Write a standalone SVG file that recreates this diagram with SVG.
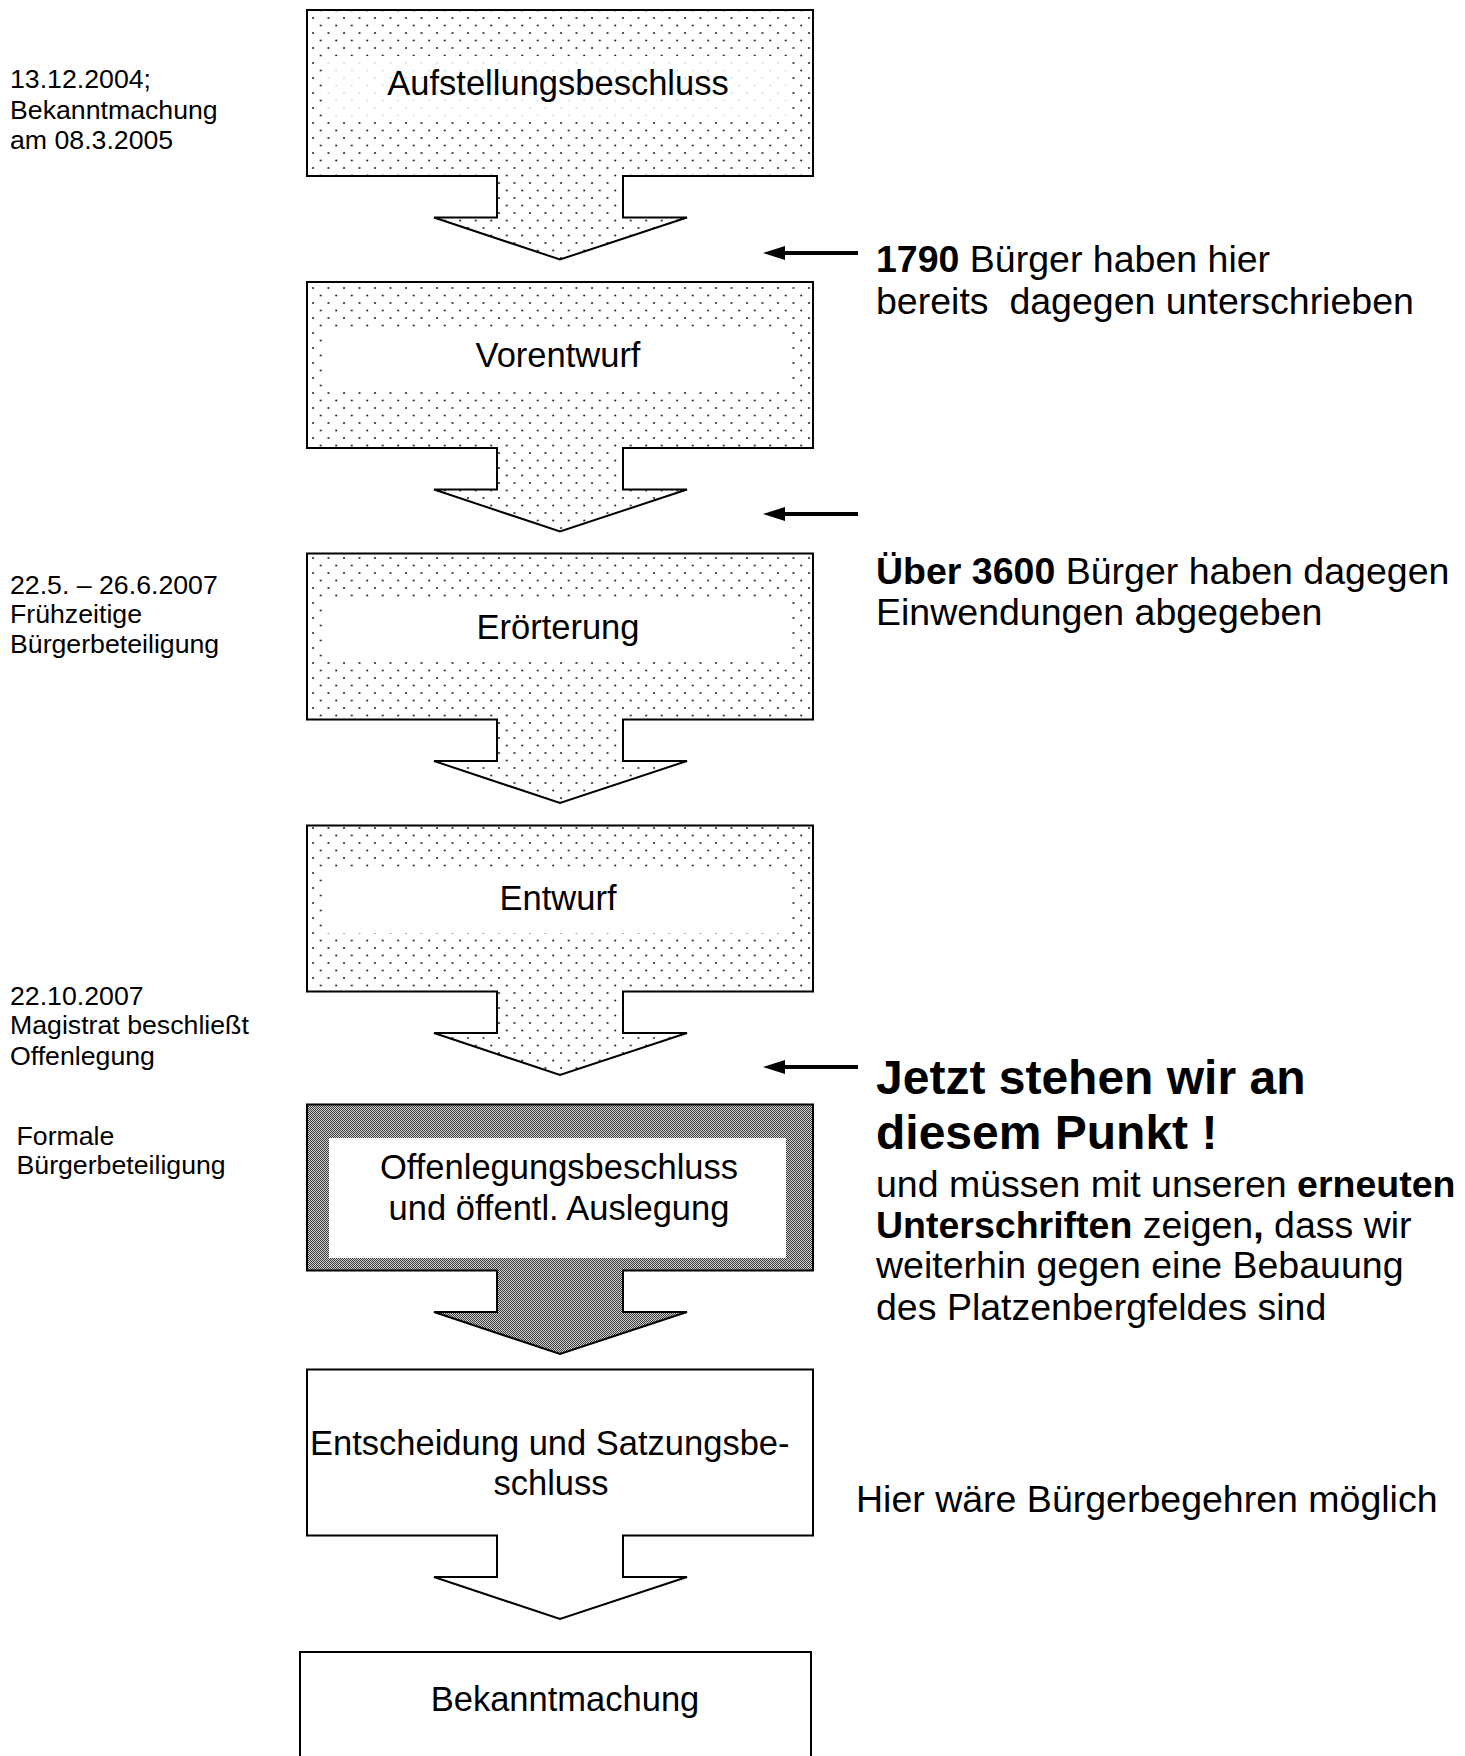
<svg xmlns="http://www.w3.org/2000/svg" width="1465" height="1756" viewBox="0 0 1465 1756">
<style>
text{font-family:"Liberation Sans",Arial,sans-serif;fill:#000}
.box{stroke:#000;stroke-width:2;stroke-linejoin:miter}
.lbl{font-size:34.5px;text-anchor:middle}
.side{font-size:26.7px}
.note{font-size:37.5px}
.big{font-size:48px;font-weight:bold}
.b{font-weight:bold}
.ptr{stroke:#000;stroke-width:4;fill:none}
</style>
<defs>
<pattern id="dots" patternUnits="userSpaceOnUse" width="15.5" height="15">
<rect width="15.5" height="15" fill="#fff"/>
<circle cx="3" cy="3" r="1.05" fill="#222"/>
<circle cx="10.75" cy="10.5" r="1.05" fill="#222"/>
</pattern>
<pattern id="faint" patternUnits="userSpaceOnUse" width="15.5" height="15">
<rect width="15.5" height="15" fill="#fff"/>
<circle cx="3" cy="3" r="1" fill="#c4e2ea"/>
<circle cx="10.75" cy="10.5" r="1" fill="#c4e2ea"/>
</pattern>
<pattern id="dark" patternUnits="userSpaceOnUse" width="2" height="2">
<rect width="2" height="2" fill="#cfcfcf"/>
<rect x="0" y="0" width="1" height="1" fill="#3c3c3c"/>
<rect x="1" y="1" width="1" height="1" fill="#3c3c3c"/>
</pattern>
</defs>

<g id="node-aufstellung">
<path class="box" fill="url(#dots)" d="M307,10 H813 V176 H623 V217.5 H687 L560,259.5 L434,217.5 H497 V176 H307 Z"/>
<rect x="327" y="56" width="462" height="66" fill="url(#faint)"/>
<text class="lbl" x="558" y="95">Aufstellungsbeschluss</text>
</g>

<g id="node-vorentwurf">
<path class="box" fill="url(#dots)" d="M307,282 H813 V448 H623 V489.5 H687 L560,531.5 L434,489.5 H497 V448 H307 Z"/>
<rect x="327" y="328" width="462" height="62" fill="#fff"/>
<text class="lbl" x="558" y="367">Vorentwurf</text>
</g>

<g id="node-eroerterung">
<path class="box" fill="url(#dots)" d="M307,553.5 H813 V719.5 H623 V761 H687 L560,803 L434,761 H497 V719.5 H307 Z"/>
<rect x="327" y="599.5" width="462" height="62" fill="#fff"/>
<text class="lbl" x="558" y="638.5">Erörterung</text>
</g>

<g id="node-entwurf">
<path class="box" fill="url(#dots)" d="M307,825.5 H813 V991.5 H623 V1033 H687 L560,1075 L434,1033 H497 V991.5 H307 Z"/>
<rect x="327" y="871.5" width="462" height="62" fill="#fff"/>
<text class="lbl" x="558" y="910">Entwurf</text>
</g>

<g id="node-offenlegung">
<path class="box" fill="url(#dark)" d="M307,1104.5 H813 V1270.5 H623 V1312 H687 L560,1354 L434,1312 H497 V1270.5 H307 Z"/>
<rect x="329" y="1138" width="457" height="120" fill="#fff"/>
<text class="lbl" x="559" y="1179">Offenlegungsbeschluss</text>
<text class="lbl" x="559" y="1219.5">und öffentl. Auslegung</text>
</g>

<g id="node-entscheidung">
<path class="box" fill="#fff" d="M307,1369.5 H813 V1535.5 H623 V1577 H687 L560,1619 L434,1577 H497 V1535.5 H307 Z"/>
<text class="lbl" x="310" y="1455" style="text-anchor:start">Entscheidung und Satzungsbe-</text>
<text class="lbl" x="551" y="1495">schluss</text>
</g>

<g id="node-bekanntmachung">
<rect class="box" x="300" y="1652" width="511" height="120" fill="#fff"/>
<text class="lbl" x="565" y="1711">Bekanntmachung</text>
</g>

<g id="side-notes">
<text class="side" x="10" y="88">13.12.2004;</text>
<text class="side" x="10" y="118.5">Bekanntmachung</text>
<text class="side" x="10" y="149">am 08.3.2005</text>
<text class="side" x="10" y="593.5">22.5. – 26.6.2007</text>
<text class="side" x="10" y="623">Frühzeitige</text>
<text class="side" x="10" y="652.5">Bürgerbeteiligung</text>
<text class="side" x="10" y="1005">22.10.2007</text>
<text class="side" x="10" y="1034">Magistrat beschließt</text>
<text class="side" x="10" y="1064.5">Offenlegung</text>
<text class="side" x="16.5" y="1145">Formale</text>
<text class="side" x="16.5" y="1174">Bürgerbeteiligung</text>
</g>

<g id="notes">
<text class="note" x="876" y="272"><tspan class="b">1790</tspan> Bürger haben hier</text>
<text class="note" x="876" y="314" style="white-space:pre">bereits  dagegen unterschrieben</text>
<text class="note" x="876" y="584"><tspan class="b">Über 3600</tspan> Bürger haben dagegen</text>
<text class="note" x="876" y="625">Einwendungen abgegeben</text>
<text class="big" x="876" y="1094">Jetzt stehen wir an</text>
<text class="big" x="876" y="1149">diesem Punkt !</text>
<text class="note" x="876" y="1197">und müssen mit unseren <tspan class="b">erneuten</tspan></text>
<text class="note" x="876" y="1238"><tspan class="b">Unterschriften</tspan> zeigen<tspan class="b">,</tspan> dass wir</text>
<text class="note" x="876" y="1278">weiterhin gegen eine Bebauung</text>
<text class="note" x="876" y="1320">des Platzenbergfeldes sind</text>
<text class="note" x="856" y="1512">Hier wäre Bürgerbegehren möglich</text>
</g>

<g id="connectors">
<line class="ptr" x1="858" y1="253" x2="780" y2="253"/>
<polygon points="763,253 785,246 785,260" fill="#000"/>
<line class="ptr" x1="858" y1="514" x2="780" y2="514"/>
<polygon points="763,514 785,507 785,521" fill="#000"/>
<line class="ptr" x1="858" y1="1067" x2="780" y2="1067"/>
<polygon points="763,1067 785,1060 785,1074" fill="#000"/>
</g>
</svg>
